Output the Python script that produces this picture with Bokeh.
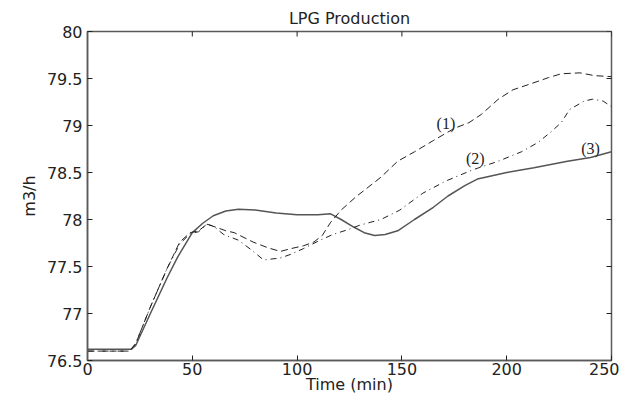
from bokeh.plotting import figure
from bokeh.models import Range1d, FixedTicker, ColumnDataSource
from bokeh.core.properties import value
from bokeh.embed import file_html
from bokeh.resources import INLINE
import math

# ---- data ----
x1 = [0, 20, 23, 30, 38, 44, 49, 53, 57, 61, 66, 70, 79, 86, 92, 97, 103, 108, 112, 116,
      121, 128, 136, 140, 148, 156, 165, 175, 182, 188, 196, 203, 211, 220, 226, 235, 242, 250]
y1 = [76.60, 76.60, 76.68, 77.07, 77.48, 77.76, 77.86, 77.88, 77.95, 77.92, 77.88, 77.86, 77.76,
      77.70, 77.66, 77.69, 77.72, 77.76, 77.83, 77.97, 78.10, 78.24, 78.38, 78.45, 78.62, 78.72,
      78.84, 78.97, 79.03, 79.12, 79.28, 79.38, 79.44, 79.51, 79.55, 79.56, 79.53, 79.52]

x2 = [0, 20, 23, 30, 38, 44, 49, 53, 57, 60, 65, 72, 78, 84, 92, 97, 103, 111, 117, 124, 130,
      140, 149, 160, 171, 184, 196, 207, 215, 221, 226, 230, 237, 241, 246, 250]
y2 = [76.60, 76.60, 76.68, 77.07, 77.48, 77.74, 77.85, 77.87, 77.95, 77.93, 77.84, 77.78, 77.68,
      77.57, 77.59, 77.63, 77.69, 77.78, 77.84, 77.89, 77.94, 78.00, 78.10, 78.28, 78.41, 78.53,
      78.62, 78.72, 78.82, 78.93, 79.03, 79.17, 79.26, 79.28, 79.26, 79.20]

x3 = [0, 21, 23, 30, 38, 43, 50, 55, 60, 66, 72, 80, 90, 100, 110, 116, 121, 127, 132, 137,
      142, 148, 156, 165, 172, 180, 186, 192, 200, 213, 229, 240, 250]
y3 = [76.62, 76.62, 76.66, 77.00, 77.38, 77.60, 77.86, 77.96, 78.04, 78.09, 78.11, 78.10, 78.07,
      78.05, 78.05, 78.06, 78.00, 77.92, 77.86, 77.83, 77.84, 77.88, 78.00, 78.13, 78.25, 78.36,
      78.43, 78.46, 78.50, 78.55, 78.62, 78.66, 78.72]

curve_labels = ["(1)", "(2)", "(3)"]
label_x = [171, 185, 240]
label_y = [79.02, 78.65, 78.76]

x_ticks = [0, 50, 100, 150, 200, 250]
y_ticks = [76.5, 77, 77.5, 78, 78.5, 79, 79.5, 80]
y_tick_labels = ["76.5", "77", "77.5", "78", "78.5", "79", "79.5", "80"]
x_min, x_max = 0, 250
y_min, y_max = 76.5, 80

FONT = "DejaVu Sans"
AXIS_COL = "#5a5a5a"

p = figure(width=619, height=396, x_range=Range1d(x_min, x_max), y_range=Range1d(y_min, y_max),
           output_backend="svg", toolbar_location=None,
           min_border_left=87, min_border_right=8, min_border_top=31, min_border_bottom=0)
p.background_fill_color = "white"
p.border_fill_color = "white"
p.grid.visible = False
p.outline_line_color = AXIS_COL
p.outline_line_width = 1.5

p.title.text = "LPG Production"
p.title.align = "center"
p.title.text_font = FONT
p.title.text_font_size = "16px"
p.title.text_font_style = "normal"
p.title.text_color = "#222222"
p.title.standoff = 8

p.xaxis.ticker = FixedTicker(ticks=x_ticks)
p.yaxis.ticker = FixedTicker(ticks=y_ticks)
p.yaxis.major_label_overrides = {t: s for t, s in zip(y_ticks, y_tick_labels)}
p.xaxis.axis_label = "Time (min)"
p.yaxis.axis_label = "m3/h"

for ax in (p.xaxis[0], p.yaxis[0]):
    ax.major_tick_in = 5
    ax.major_tick_out = 0
    ax.minor_tick_in = 0
    ax.minor_tick_out = 0
    ax.axis_line_color = AXIS_COL
    ax.axis_line_width = 1.5
    ax.major_tick_line_color = "#222222"
    ax.major_label_text_font = FONT
    ax.major_label_text_font_size = "16px"
    ax.major_label_text_color = "#222222"
    ax.axis_label_text_font = FONT
    ax.axis_label_text_font_size = "16px"
    ax.axis_label_text_font_style = "normal"
    ax.axis_label_text_color = "#222222"
p.xaxis.major_label_standoff = 2
p.xaxis.axis_label_standoff = -3
p.yaxis.major_label_standoff = 5
p.yaxis.axis_label_standoff = 5

# mirror ticks on the top and right frame edges (clipped dash markers)
top_src = ColumnDataSource(dict(x=x_ticks, y=[y_max] * len(x_ticks)))
right_src = ColumnDataSource(dict(x=[x_max] * len(y_ticks), y=y_ticks))
p.scatter("x", "y", source=top_src, marker="dash", size=10, angle=math.pi / 2,
          line_color="#222222", line_width=1)
p.scatter("x", "y", source=right_src, marker="dash", size=10, angle=0,
          line_color="#222222", line_width=1)

s1 = ColumnDataSource(dict(x=x1, y=y1))
s2 = ColumnDataSource(dict(x=x2, y=y2))
s3 = ColumnDataSource(dict(x=x3, y=y3))
p.line("x", "y", source=s3, line_color="#555555", line_width=1.5)
p.line("x", "y", source=s1, line_color="#222222", line_width=1, line_dash="7 4")
p.line("x", "y", source=s2, line_color="#222222", line_width=1, line_dash="6 4 1 4")

ls = ColumnDataSource(dict(x=label_x, y=label_y, t=curve_labels))
p.text("x", "y", text="t", source=ls, text_font=value("Liberation Serif"),
       text_font_size="16px", text_align="center", text_baseline="middle", text_color="#222222")

open("out.html", "w").write(file_html(p, INLINE))
